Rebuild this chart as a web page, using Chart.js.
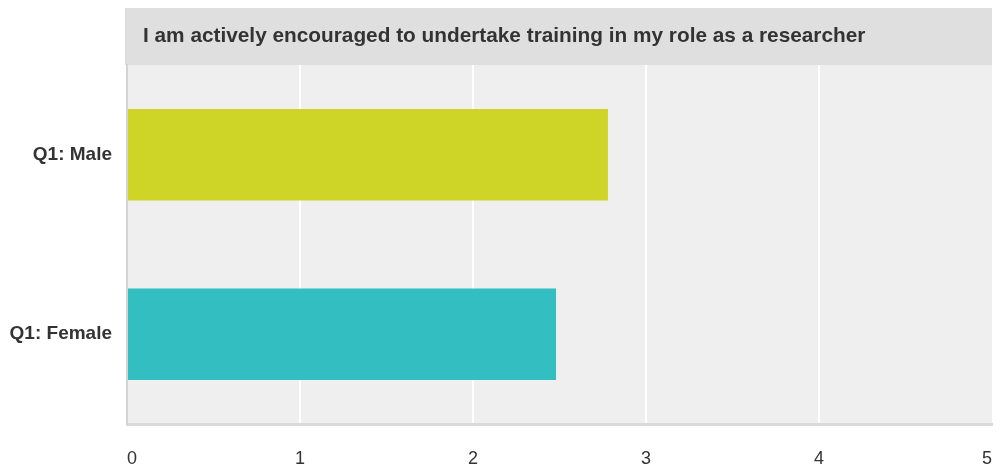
<!DOCTYPE html>
<html>
<head>
<meta charset="utf-8">
<script src="https://cdn.jsdelivr.net/npm/chart.js@4/dist/chart.umd.min.js"></script>
<style>
  html, body { margin: 0; padding: 0; background: #fff; }
  #wrap { width: 1000px; height: 468px; position: relative; }
</style>
</head>
<body>
<div id="wrap"><canvas id="chart"></canvas></div>
<script>
const categories = ['Q1: Male', 'Q1: Female'];
const scores = [2.78, 2.48];
const barColors = ['#cfd527', '#33bec1'];
const xTicks = [0, 1, 2, 3, 4, 5];
const chartTitle = 'I am actively encouraged to undertake training in my role as a researcher';

Chart.defaults.font.family = '"Liberation Sans", Arial, Helvetica, sans-serif';
Chart.defaults.color = '#333';

// grey plot background and the title band above it
const panel = {
  id: 'panel',
  beforeDraw(chart) {
    const { ctx, chartArea: a } = chart;
    ctx.save();
    ctx.fillStyle = '#efefef';
    ctx.fillRect(a.left, a.top, a.right - a.left, a.bottom - a.top);
    ctx.fillStyle = '#dfdfdf';
    ctx.fillRect(a.left - 2, 8, a.right - a.left + 2, a.top - 8);
    ctx.fillStyle = '#333';
    ctx.font = 'bold 20.8px "Liberation Sans", Arial, sans-serif';
    ctx.textBaseline = 'middle';
    ctx.fillText(chartTitle, a.left + 16, 36);
    ctx.restore();
  }
};

new Chart(document.getElementById('chart'), {
  type: 'bar',
  data: {
    labels: categories,
    datasets: [{
      data: scores,
      backgroundColor: barColors,
      borderWidth: 0,
      barPercentage: 0.51,
      categoryPercentage: 1
    }]
  },
  options: {
    indexAxis: 'y',
    responsive: true,
    maintainAspectRatio: false,
    animation: false,
    layout: { padding: { top: 65, right: 8, left: 0, bottom: 0 } },
    plugins: {
      legend: { display: false },
      tooltip: { enabled: false }
    },
    scales: {
      x: {
        min: 0,
        max: 5,
        afterBuildTicks(scale) { scale.ticks = xTicks.map(v => ({ value: v })); },
        afterFit(scale) {
          scale.height = 44;
          scale.paddingLeft = 0;
          scale.paddingRight = 0;
        },
        grid: {
          drawTicks: false,
          lineWidth: 2,
          color: ctx => (ctx.tick && ctx.tick.value > 0 && ctx.tick.value < 5) ? '#ffffff' : 'rgba(0,0,0,0)'
        },
        border: { display: true, color: '#dadada', width: 3 },
        ticks: {
          align: 'inner',
          padding: 24,
          color: '#333',
          font: { size: 18 }
        }
      },
      y: {
        afterFit(scale) { scale.width = 127; },
        grid: { display: false, drawTicks: false },
        border: { display: true, color: '#d4d4d4', width: 2 },
        ticks: {
          padding: 15,
          color: '#333',
          font: { size: 19, weight: 'bold' }
        }
      }
    }
  },
  plugins: [panel]
});
</script>
</body>
</html>
